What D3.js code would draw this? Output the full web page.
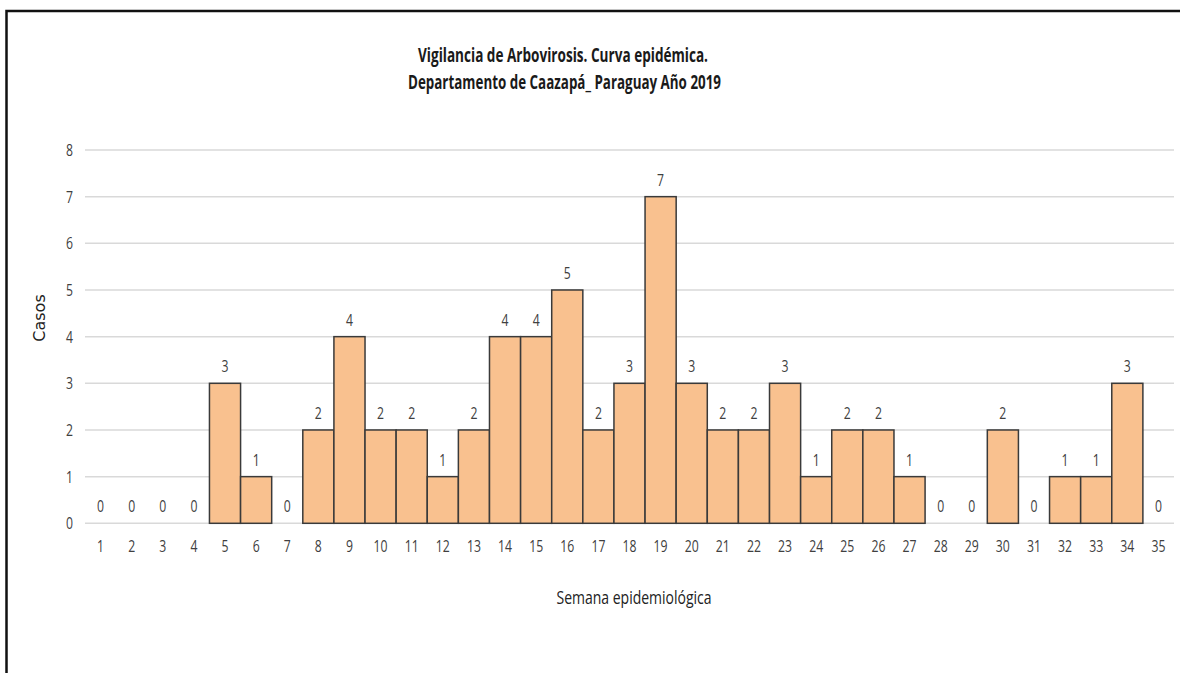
<!DOCTYPE html>
<html>
<head>
<meta charset="utf-8">
<script src="https://cdn.jsdelivr.net/npm/d3@7"></script>
<style>
  body { margin: 0; background: #fff; }
  text { font-family: "Open Sans", "DejaVu Sans Condensed", sans-serif; }
</style>
</head>
<body>
<script>
var svgWidth = 1180;
var svgHeight = 673;

// semanas epidemiologicas y casos
var semanas = d3.range(1, 36).map(String);
var casos = [0, 0, 0, 0, 3, 1, 0, 2, 4, 2, 2, 1, 2, 4, 4, 5, 2, 3, 7, 3, 2, 2, 3, 1, 2, 2, 1, 0, 0, 2, 0, 1, 1, 3, 0];
var yTicks = [0, 1, 2, 3, 4, 5, 6, 7, 8];
var titulo = ["Vigilancia de Arbovirosis. Curva epidémica.", "Departamento de Caazapá_ Paraguay Año 2019"];

var margin = { top: 150, right: 6, bottom: 150, left: 85 };
var height = 523.3 - margin.top;

// condensed look: squeeze digits to a fixed width per character
function squeeze(sel, per) {
  sel.attr("textLength", function() { return this.textContent.length * per; })
     .attr("lengthAdjust", "spacingAndGlyphs");
}

var svg = d3.select("body")
            .append("svg")
            .attr("width", svgWidth)
            .attr("height", svgHeight);

// marco
svg.append("path")
   .attr("d", "M6.5,680 V11 H1185")
   .attr("fill", "none")
   .attr("stroke", "#111")
   .attr("stroke-width", 2.5);

var chartGroup = svg.append("g")
                    .attr("transform", `translate(${margin.left}, ${margin.top})`);

var x = d3.scaleBand()
          .domain(semanas)
          .range([0, 1174 - margin.left])
          .padding(0);

var y = d3.scaleLinear()
          .domain([0, 8])
          .range([height, 0]);

// grid
chartGroup.append("g")
          .selectAll("line")
          .data(yTicks)
          .enter()
          .append("line")
          .attr("x1", 0)
          .attr("x2", x.range()[1])
          .attr("y1", d => y(d))
          .attr("y2", d => y(d))
          .attr("stroke", "#d9d9d9")
          .attr("stroke-width", 1.5);

// y labels
var leftAxis = d3.axisLeft(y).tickValues(yTicks).tickSize(0).tickPadding(12);
var yAxis = chartGroup.append("g").call(leftAxis);
yAxis.select(".domain").remove();
yAxis.selectAll("text")
     .attr("font-size", 17)
     .attr("fill", "#404040")
     .style("font-family", "'Open Sans', sans-serif")
     .call(squeeze, 7);

// bars
chartGroup.selectAll("rect.bar")
          .data(casos.map((v, i) => ({ semana: semanas[i], v: v })).filter(d => d.v > 0))
          .enter()
          .append("rect")
          .attr("class", "bar")
          .attr("x", d => x(d.semana))
          .attr("y", d => y(d.v))
          .attr("width", x.bandwidth())
          .attr("height", d => height - y(d.v))
          .attr("fill", "#f9c18f")
          .attr("stroke", "#3a3a3a")
          .attr("stroke-width", 1.5);

// data labels
chartGroup.selectAll("text.lbl")
          .data(casos)
          .enter()
          .append("text")
          .attr("class", "lbl")
          .attr("x", (d, i) => x(semanas[i]) + x.bandwidth() / 2)
          .attr("y", d => y(d) - 11)
          .attr("text-anchor", "middle")
          .attr("font-size", 17)
          .attr("fill", "#404040")
          .text(d => d)
          .call(squeeze, 7);

// x labels
var bottomAxis = d3.axisBottom(x).tickSize(0).tickPadding(17);
var xAxis = chartGroup.append("g")
                      .attr("transform", `translate(0, ${height})`)
                      .call(bottomAxis);
xAxis.select(".domain").remove();
xAxis.selectAll("text")
     .attr("font-size", 17)
     .attr("fill", "#404040")
     .style("font-family", "'Open Sans', sans-serif")
     .call(squeeze, 7);

// titles
svg.append("text")
   .attr("x", 563)
   .attr("y", 62)
   .attr("text-anchor", "middle")
   .attr("font-size", 20)
   .attr("font-weight", "bold")
   .attr("fill", "#1a1a1a")
   .attr("textLength", 290)
   .attr("lengthAdjust", "spacingAndGlyphs")
   .text(titulo[0]);

svg.append("text")
   .attr("x", 564.5)
   .attr("y", 89)
   .attr("text-anchor", "middle")
   .attr("font-size", 20)
   .attr("font-weight", "bold")
   .attr("fill", "#1a1a1a")
   .attr("textLength", 313)
   .attr("lengthAdjust", "spacingAndGlyphs")
   .text(titulo[1]);

svg.append("text")
   .attr("x", 634)
   .attr("y", 604)
   .attr("text-anchor", "middle")
   .attr("font-size", 19)
   .attr("fill", "#222")
   .attr("textLength", 155)
   .attr("lengthAdjust", "spacingAndGlyphs")
   .text("Semana epidemiológica");

svg.append("text")
   .attr("transform", "translate(45, 318) rotate(-90)")
   .attr("text-anchor", "middle")
   .attr("font-size", 16)
   .attr("fill", "#222")
   .style("font-family", "'DejaVu Sans', sans-serif")
   .text("Casos");
</script>
</body>
</html>
